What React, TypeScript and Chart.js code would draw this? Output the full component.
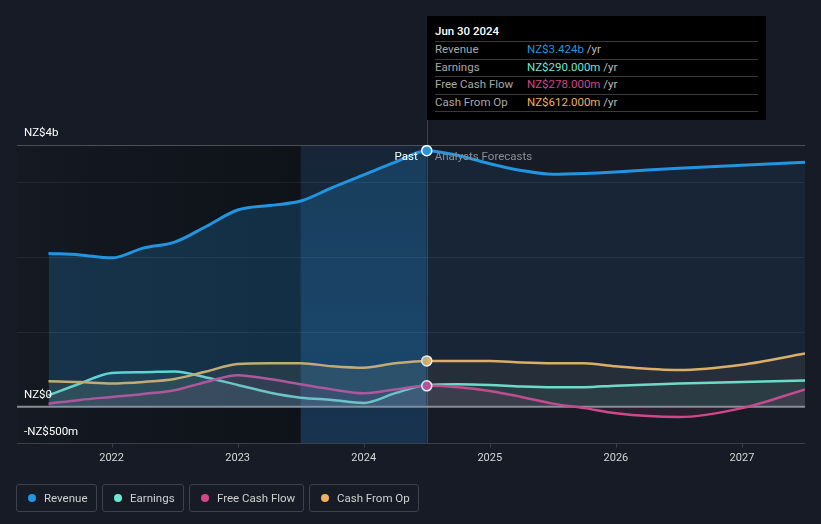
import React, { useEffect, useRef } from "react";
import { Chart, registerables } from "chart.js";

Chart.register(...registerables);

const X_VALUES = [2021.5, 2021.75, 2022.0, 2022.25, 2022.5, 2022.75, 2023.0, 2023.25, 2023.5, 2023.75, 2024.0, 2024.25, 2024.5, 2024.75, 2025.0, 2025.25, 2025.5, 2025.75, 2026.0, 2026.5, 2027.0, 2027.5];
const REVENUE = [2.05, 2.03, 1.99, 2.12, 2.2, 2.41, 2.63, 2.69, 2.75, 2.93, 3.1, 3.27, 3.424, 3.36, 3.25, 3.16, 3.11, 3.12, 3.14, 3.19, 3.23, 3.27];
const EARNINGS = [0.15, 0.31, 0.45, 0.46, 0.47, 0.39, 0.29, 0.19, 0.12, 0.09, 0.05, 0.18, 0.29, 0.3, 0.29, 0.27, 0.26, 0.26, 0.28, 0.31, 0.33, 0.35];
const FREE_CASH_FLOW = [0.04, 0.09, 0.13, 0.17, 0.22, 0.33, 0.42, 0.37, 0.3, 0.23, 0.18, 0.23, 0.278, 0.26, 0.21, 0.13, 0.04, -0.02, -0.09, -0.14, -0.02, 0.23];
const CASH_FROM_OP = [0.34, 0.33, 0.31, 0.33, 0.37, 0.47, 0.57, 0.58, 0.58, 0.54, 0.52, 0.58, 0.612, 0.61, 0.61, 0.59, 0.58, 0.58, 0.54, 0.49, 0.56, 0.71];
const YEAR_TICKS = [2022, 2023, 2024, 2025, 2026, 2027];
const Y_LABELS = [
  { value: 3.5, text: "NZ$4b" },
  { value: 0, text: "NZ$0" },
  { value: -0.5, text: "-NZ$500m" },
];
const GRID_VALUES = [1, 2, 3];
const PAST_END = 2024.5;
const BAND_START = 2023.5;
const X_MIN = 2021.25;
const X_MAX = 2027.5;

const COLORS = {
  revenue: "#2394df",
  earnings: "#6ee7d3",
  fcf: "#d1478a",
  cfo: "#f0b15c",
};

const FONT = "Roboto, 'Noto Sans', sans-serif";

const TOOLTIP_ROWS = [
  { label: "Revenue", value: "NZ$3.424b", color: COLORS.revenue },
  { label: "Earnings", value: "NZ$290.000m", color: COLORS.earnings },
  { label: "Free Cash Flow", value: "NZ$278.000m", color: COLORS.fcf },
  { label: "Cash From Op", value: "NZ$612.000m", color: COLORS.cfo },
];

const LEGEND = [
  { label: "Revenue", color: COLORS.revenue, width: 81 },
  { label: "Earnings", color: COLORS.earnings, width: 82 },
  { label: "Free Cash Flow", color: COLORS.fcf, width: 115 },
  { label: "Cash From Op", color: COLORS.cfo, width: 110 },
];

function mk(label: string, data: number[], color: string, pastFill: string, futFill: string, order: number, width: number, showPoint: boolean) {
  return {
    label,
    data: X_VALUES.map((x, i) => ({ x, y: data[i] })),
    borderColor: color,
    borderWidth: width,
    backgroundColor: pastFill,
    fill: "origin",
    cubicInterpolationMode: "monotone" as const,
    tension: 0.4,
    order,
    pointRadius: X_VALUES.map((x) => (showPoint && x === PAST_END ? 5 : 0)),
    pointBackgroundColor: color,
    pointBorderColor: "#ffffff",
    pointBorderWidth: 1.5,
    segment: {
      backgroundColor: (ctx: any) => (ctx.p0.parsed.x >= PAST_END ? futFill : pastFill),
    },
  };
}

const decorPlugin = {
  id: "decor",
  beforeDraw(chart: any) {
    const { ctx, chartArea, scales } = chart;
    const x = scales.x;
    const y = scales.y;
    const { left, right, top, bottom } = chartArea;
    ctx.save();
    const xBand = x.getPixelForValue(BAND_START);
    const xPast = x.getPixelForValue(PAST_END);
    const g1 = ctx.createLinearGradient(left, 0, xBand, 0);
    g1.addColorStop(0, "#141922");
    g1.addColorStop(1, "#0e1219");
    ctx.fillStyle = g1;
    ctx.fillRect(left, top, xBand - left, bottom - top);
    const g2 = ctx.createLinearGradient(0, top, 0, bottom);
    g2.addColorStop(0, "rgba(30,110,180,0.12)");
    g2.addColorStop(1, "rgba(30,110,180,0.30)");
    ctx.fillStyle = g2;
    ctx.fillRect(xBand, top, xPast - xBand, bottom - top);
    ctx.strokeStyle = "rgba(255,255,255,0.07)";
    ctx.lineWidth = 1;
    for (const v of GRID_VALUES) {
      const py = Math.round(y.getPixelForValue(v)) + 0.5;
      ctx.beginPath();
      ctx.moveTo(left, py);
      ctx.lineTo(right, py);
      ctx.stroke();
    }
    ctx.strokeStyle = "#4a4f58";
    const pt = Math.round(y.getPixelForValue(3.5)) + 0.5;
    ctx.beginPath();
    ctx.moveTo(left, pt);
    ctx.lineTo(right, pt);
    ctx.stroke();
    ctx.strokeStyle = "#3a3f4a";
    const pb = Math.round(y.getPixelForValue(-0.5)) - 0.5;
    ctx.beginPath();
    ctx.moveTo(left, pb);
    ctx.lineTo(right, pb);
    ctx.stroke();
    ctx.strokeStyle = "#3a404c";
    ctx.beginPath();
    ctx.moveTo(Math.round(xPast) + 0.5, 16);
    ctx.lineTo(Math.round(xPast) + 0.5, bottom);
    ctx.stroke();
    for (const yr of YEAR_TICKS) {
      const px = Math.round(x.getPixelForValue(yr)) + 0.5;
      ctx.beginPath();
      ctx.moveTo(px, pb);
      ctx.lineTo(px, pb + 4);
      ctx.stroke();
    }
    ctx.restore();
  },
  beforeDatasetsDraw(chart: any) {
    const { ctx, chartArea, scales } = chart;
    const py = scales.y.getPixelForValue(0);
    ctx.save();
    ctx.strokeStyle = "#8a8d93";
    ctx.lineWidth = 2;
    ctx.beginPath();
    ctx.moveTo(chartArea.left, py);
    ctx.lineTo(chartArea.right, py);
    ctx.stroke();
    ctx.restore();
  },
  afterDraw(chart: any) {
    const { ctx, chartArea, scales } = chart;
    const x = scales.x;
    const y = scales.y;
    ctx.save();
    ctx.font = `11.5px ${FONT}`;
    ctx.textBaseline = "middle";
    ctx.fillStyle = "#ffffff";
    ctx.textAlign = "left";
    for (const l of Y_LABELS) {
      const py = y.getPixelForValue(l.value);
      ctx.fillText(l.text, 24, py - 12);
    }
    ctx.font = `11px ${FONT}`;
    ctx.fillStyle = "#d6d6d6";
    ctx.textAlign = "center";
    for (const yr of YEAR_TICKS) {
      ctx.fillText(String(yr), x.getPixelForValue(yr), chartArea.bottom + 14);
    }
    const xp = x.getPixelForValue(PAST_END);
    const ly = y.getPixelForValue(3.5) + 12;
    ctx.font = `11.5px ${FONT}`;
    ctx.textAlign = "right";
    ctx.fillStyle = "#ffffff";
    ctx.fillText("Past", xp - 9, ly);
    ctx.textAlign = "left";
    ctx.fillStyle = "#8a8e96";
    ctx.fillText("Analysts Forecasts", xp + 8, ly);
    ctx.restore();
  },
};

export default function App() {
  const ref = useRef<HTMLCanvasElement>(null);
  useEffect(() => {
    if (!ref.current) return;
    const chart = new Chart(ref.current, {
      type: "line",
      data: {
        datasets: [
          mk("Revenue", REVENUE, COLORS.revenue, "rgba(35,148,223,0.22)", "rgba(35,148,223,0.09)", 0, 3, true),
          mk("Free Cash Flow", FREE_CASH_FLOW, COLORS.fcf, "rgba(209,71,138,0.10)", "rgba(209,71,138,0.10)", 1, 2.5, true),
          mk("Cash From Op", CASH_FROM_OP, COLORS.cfo, "rgba(240,177,92,0.10)", "rgba(240,177,92,0.08)", 2, 2.5, true),
          mk("Earnings", EARNINGS, COLORS.earnings, "rgba(110,231,211,0.10)", "rgba(110,231,211,0.08)", 3, 2.5, false),
        ] as any,
      },
      options: {
        animation: false,
        responsive: false,
        maintainAspectRatio: false,
        layout: { padding: { left: 17, right: 16, top: 145, bottom: 80 } },
        plugins: { legend: { display: false }, tooltip: { enabled: false } },
        scales: {
          x: { type: "linear", min: X_MIN, max: X_MAX, display: false },
          y: { type: "linear", min: -0.5, max: 3.5, display: false },
        },
      },
      plugins: [decorPlugin],
    });
    return () => chart.destroy();
  }, []);

  return (
    <div style={{ position: "absolute", left: 0, top: 0, width: 821, height: 524, background: "#161b26", fontFamily: FONT, overflow: "hidden" }}>
      <canvas ref={ref} width={821} height={524} style={{ position: "absolute", left: 0, top: 0, width: 821, height: 524 }} />
      <div style={{ position: "absolute", left: 427, top: 16, width: 339, height: 104, background: "#000000" }}>
        <div style={{ position: "absolute", left: 8, top: 8, fontSize: 11.5, color: "#ffffff", lineHeight: "15px", fontWeight: 500 }}>Jun 30 2024</div>
        {TOOLTIP_ROWS.map((r, i) => (
          <React.Fragment key={r.label}>
            <div style={{ position: "absolute", left: 8, width: 323, top: 25 + i * 17.5, height: 1, background: "#3a3a3a" }} />
            <div style={{ position: "absolute", left: 8, top: 26 + i * 17.5, fontSize: 11.5, lineHeight: "15px", color: "#a8a8a8", whiteSpace: "nowrap" }}>{r.label}</div>
            <div style={{ position: "absolute", left: 100, top: 26 + i * 17.5, fontSize: 11.5, lineHeight: "15px", whiteSpace: "nowrap" }}>
              <span style={{ color: r.color }}>{r.value}</span>
              <span style={{ color: "#bdbdbd" }}> /yr</span>
            </div>
          </React.Fragment>
        ))}
        <div style={{ position: "absolute", left: 8, width: 323, top: 95, height: 1, background: "#3a3a3a" }} />
      </div>
      <div style={{ position: "absolute", left: 16, top: 484, display: "flex", gap: 5 }}>
        {LEGEND.map((l) => (
          <div key={l.label} style={{ width: l.width, height: 28, border: "1px solid #3c414b", borderRadius: 3, display: "flex", alignItems: "center", boxSizing: "border-box" }}>
            <span style={{ width: 8, height: 8, borderRadius: 4, background: l.color, marginLeft: 11, marginRight: 8, flex: "none" }} />
            <span style={{ fontSize: 11.5, color: "#d0d0d0", whiteSpace: "nowrap" }}>{l.label}</span>
          </div>
        ))}
      </div>
    </div>
  );
}
